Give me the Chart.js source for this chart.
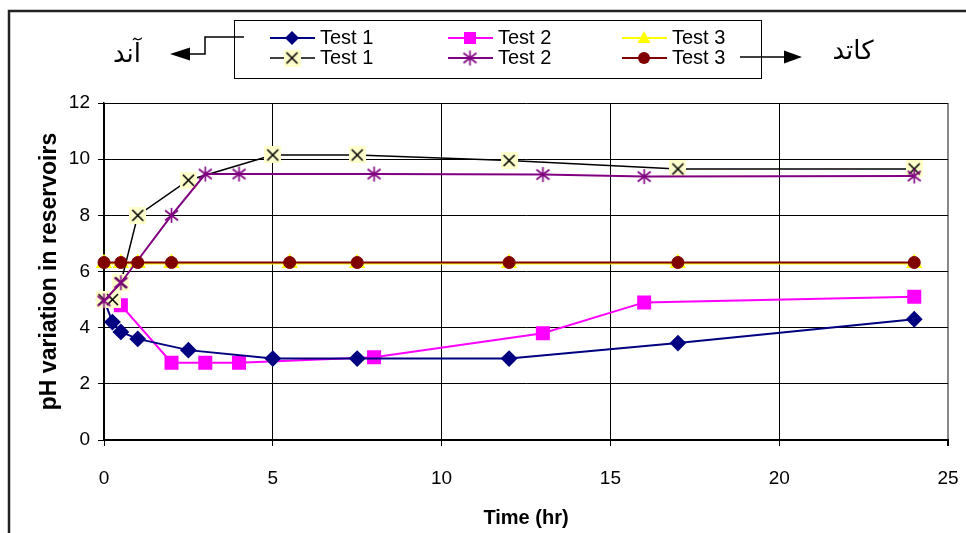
<!DOCTYPE html>
<html><head><meta charset="utf-8">
<script src="https://cdn.jsdelivr.net/npm/chart.js@4/dist/chart.umd.min.js"></script>
<style>html,body{margin:0;padding:0;background:#fff;overflow:hidden}#wrap{width:966px;height:533px;position:relative}</style>
</head><body><div id="wrap"><canvas id="c" width="966" height="533"></canvas></div>
<script>
// ---- data ----
const seriesLabels = ['Test 1', 'Test 2', 'Test 3'];
const anodeLabel = 'آند';
const cathodeLabel = 'كاتد';
const xTitle = 'Time (hr)';
const yTitle = 'pH variation in reservoirs';

const t1AnodeTime = [0, 0.25, 0.5, 1, 2.5, 5, 7.5, 12, 17, 24];
const t1AnodePH   = [5.0, 4.2, 3.85, 3.6, 3.2, 2.9, 2.9, 2.9, 3.45, 4.3];
const t2AnodeTime = [0, 0.5, 2, 3, 4, 8, 13, 16, 24];
const t2AnodePH   = [5.0, 4.8, 2.75, 2.75, 2.75, 2.95, 3.8, 4.9, 5.1];
const t3AnodeTime = [0, 0.5, 1, 2, 5.5, 7.5, 12, 17, 24];
const t3AnodePH   = [6.29, 6.29, 6.29, 6.29, 6.29, 6.29, 6.29, 6.29, 6.29];

const t1CathodeTime = [0, 0.25, 0.5, 1, 2.5, 5, 7.5, 12, 17, 24];
const t1CathodePH   = [5.0, 5.0, 5.6, 8.0, 9.25, 10.15, 10.15, 9.95, 9.65, 9.65];
const t2CathodeTime = [0, 0.5, 2, 3, 4, 8, 13, 16, 24];
const t2CathodePH   = [4.95, 5.6, 8.0, 9.47, 9.47, 9.47, 9.45, 9.38, 9.4];
const t3CathodeTime = [0, 0.5, 1, 2, 5.5, 7.5, 12, 17, 24];
const t3CathodePH   = [6.32, 6.32, 6.32, 6.32, 6.32, 6.32, 6.32, 6.32, 6.32];

const xMin = 0, xMax = 25, xStep = 5;
const yMin = 0, yMax = 12, yStep = 2;

// ---- helpers ----
function pts(xs, ys) { return xs.map((x, i) => ({x: x, y: ys[i]})); }

function makeXMarker() {
  const c = document.createElement('canvas'); c.width = 17; c.height = 17;
  const g = c.getContext('2d');
  g.fillStyle = '#FFFFCC'; g.fillRect(0, 0, 17, 17);
  g.strokeStyle = '#000'; g.lineWidth = 1.6; g.beginPath();
  g.moveTo(3, 3); g.lineTo(14, 14); g.moveTo(14, 3); g.lineTo(3, 14); g.stroke();
  return c;
}
function makeStarMarker() {
  const c = document.createElement('canvas'); c.width = 17; c.height = 17;
  const g = c.getContext('2d');
  g.strokeStyle = '#800080'; g.lineWidth = 1.6; g.beginPath();
  g.moveTo(8.5, 1); g.lineTo(8.5, 16);
  g.moveTo(2, 3.5); g.lineTo(15, 13.5);
  g.moveTo(15, 3.5); g.lineTo(2, 13.5);
  g.stroke();
  return c;
}
const xMarker = makeXMarker();
const starMarker = makeStarMarker();

const NAVY = '#000080', MAG = '#FF00FF', YEL = '#FFFF00', PUR = '#800080', DRED = '#800000';

const datasets = [
  {label: seriesLabels[2], data: pts(t3CathodeTime, t3CathodePH), borderColor: DRED, backgroundColor: DRED,
   borderWidth: 2, pointStyle: 'circle', pointRadius: 6, pointBorderWidth: 1, order: 0},
  {label: seriesLabels[1], data: pts(t2CathodeTime, t2CathodePH), borderColor: PUR, backgroundColor: PUR,
   borderWidth: 2, pointStyle: starMarker, pointRadius: 8, order: 1},
  {label: seriesLabels[0], data: pts(t1CathodeTime, t1CathodePH), borderColor: '#000', backgroundColor: '#000',
   borderWidth: 1.5, pointStyle: xMarker, pointRadius: 8, order: 2},
  {label: seriesLabels[2], data: pts(t3AnodeTime, t3AnodePH), borderColor: YEL, backgroundColor: YEL,
   borderWidth: 2.5, pointStyle: 'triangle', pointRadius: 7, order: 3},
  {label: seriesLabels[0], data: pts(t1AnodeTime, t1AnodePH), borderColor: NAVY, backgroundColor: NAVY,
   borderWidth: 2, pointStyle: 'rectRot', pointRadius: 7, order: 4},
  {label: seriesLabels[1], data: pts(t2AnodeTime, t2AnodePH), borderColor: MAG, backgroundColor: MAG,
   borderWidth: 2, pointStyle: 'rect', pointRadius: 8.5, order: 5}
];
datasets.forEach(d => { d.tension = 0; d.clip = false; d.fill = false; d.pointBorderColor = d.borderColor; });

function drawMarker(ctx, kind, x, y) {
  ctx.save();
  if (kind === 'diamond') {
    ctx.fillStyle = NAVY; ctx.beginPath();
    ctx.moveTo(x, y - 7); ctx.lineTo(x + 7, y); ctx.lineTo(x, y + 7); ctx.lineTo(x - 7, y); ctx.closePath(); ctx.fill();
  } else if (kind === 'square') {
    ctx.fillStyle = MAG; ctx.fillRect(x - 6, y - 6, 12, 12);
  } else if (kind === 'triangle') {
    ctx.fillStyle = YEL; ctx.beginPath();
    ctx.moveTo(x, y - 7); ctx.lineTo(x + 6.5, y + 5); ctx.lineTo(x - 6.5, y + 5); ctx.closePath(); ctx.fill();
  } else if (kind === 'circle') {
    ctx.fillStyle = DRED; ctx.beginPath(); ctx.arc(x, y, 6, 0, Math.PI * 2); ctx.fill();
  } else if (kind === 'x') {
    ctx.drawImage(xMarker, x - 8.5, y - 8.5);
  } else if (kind === 'star') {
    ctx.drawImage(starMarker, x - 8.5, y - 8.5);
  }
  ctx.restore();
}

const decorPlugin = {
  id: 'decor',
  afterDraw(chart) {
    const ctx = chart.ctx;
    ctx.save();
    // outer frame
    ctx.strokeStyle = '#222'; ctx.lineWidth = 2.5;
    ctx.beginPath(); ctx.moveTo(9, 533); ctx.lineTo(9, 11); ctx.lineTo(966, 11); ctx.stroke();
    // legend box
    ctx.fillStyle = '#fff'; ctx.fillRect(234, 20, 527, 58);
    ctx.strokeStyle = '#000'; ctx.lineWidth = 1;
    ctx.strokeRect(234.5, 20.5, 527, 58);
    const entries = [
      {col: 0, row: 0, color: NAVY, kind: 'diamond', w: 2, text: seriesLabels[0]},
      {col: 1, row: 0, color: MAG, kind: 'square', w: 2, text: seriesLabels[1]},
      {col: 2, row: 0, color: YEL, kind: 'triangle', w: 2, text: seriesLabels[2]},
      {col: 0, row: 1, color: '#000', kind: 'x', w: 1.5, text: seriesLabels[0]},
      {col: 1, row: 1, color: PUR, kind: 'star', w: 2, text: seriesLabels[1]},
      {col: 2, row: 1, color: DRED, kind: 'circle', w: 2, text: seriesLabels[2]}
    ];
    const colX = [292, 470, 644];
    const rowY = [38, 58];
    ctx.font = '20px "Liberation Sans", Arial, sans-serif';
    ctx.textBaseline = 'middle'; ctx.textAlign = 'left';
    entries.forEach(e => {
      const mx = colX[e.col], my = rowY[e.row];
      ctx.strokeStyle = e.color; ctx.lineWidth = e.w;
      ctx.beginPath(); ctx.moveTo(mx - 22, my); ctx.lineTo(mx + 23, my); ctx.stroke();
      drawMarker(ctx, e.kind, mx, my);
      ctx.fillStyle = '#000';
      ctx.fillText(e.text, mx + 28, my);
    });
    // anode arrow (left)
    ctx.strokeStyle = '#000'; ctx.lineWidth = 1.5;
    ctx.beginPath(); ctx.moveTo(244, 37); ctx.lineTo(205, 37); ctx.lineTo(205, 54); ctx.lineTo(188, 54); ctx.stroke();
    ctx.fillStyle = '#000'; ctx.beginPath();
    ctx.moveTo(170, 54); ctx.lineTo(190, 47.5); ctx.lineTo(190, 60.5); ctx.closePath(); ctx.fill();
    // cathode arrow (right)
    ctx.beginPath(); ctx.moveTo(740, 57); ctx.lineTo(786, 57); ctx.stroke();
    ctx.beginPath(); ctx.moveTo(802, 57); ctx.lineTo(784, 50.5); ctx.lineTo(784, 63.5); ctx.closePath(); ctx.fill();
    // arabic labels
    ctx.font = '26px "DejaVu Sans", "Noto Sans", sans-serif';
    ctx.textAlign = 'center'; ctx.textBaseline = 'middle';
    ctx.fillText(anodeLabel, 127, 55);
    ctx.fillText(cathodeLabel, 853, 52);
    ctx.restore();
  }
};

new Chart(document.getElementById('c'), {
  type: 'line',
  data: {datasets: datasets},
  plugins: [decorPlugin],
  options: {
    responsive: false, animation: false, devicePixelRatio: 1,
    layout: {padding: {left: 0, right: 18, top: 103, bottom: 0}},
    plugins: {legend: {display: false}, tooltip: {enabled: false}},
    scales: {
      x: {
        type: 'linear', min: xMin, max: xMax,
        ticks: {stepSize: xStep, color: '#000', padding: 21, font: {family: '"Liberation Sans", Arial, sans-serif', size: 19}},
        grid: {color: ctx => ctx.tick && ctx.tick.value === xMax ? '#888' : '#000',
               lineWidth: ctx => ctx.tick && ctx.tick.value === xMax ? 2 : 1, tickLength: 6, tickColor: '#000'},
        border: {color: '#000', width: 2},
        title: {display: true, text: xTitle, color: '#000', padding: {top: 0, bottom: 3},
                font: {family: '"Liberation Sans", Arial, sans-serif', size: 20, weight: 'bold'}},
        afterFit(s) { s.height = 93; s.paddingLeft = 0; s.paddingRight = 0; }
      },
      y: {
        type: 'linear', min: yMin, max: yMax,
        ticks: {stepSize: yStep, color: '#000', padding: 8, font: {family: '"Liberation Sans", Arial, sans-serif', size: 19}},
        grid: {color: '#000', lineWidth: 1, tickLength: 6, tickColor: '#000'},
        border: {color: '#000', width: 1.5},
        title: {display: true, text: yTitle, color: '#000', padding: {top: 36, bottom: 0},
                font: {family: '"Liberation Sans", Arial, sans-serif', size: 23, weight: 'bold'}},
        afterFit(s) { s.width = 104; s.paddingTop = 0; s.paddingBottom = 0; }
      }
    }
  }
});
</script></body></html>
